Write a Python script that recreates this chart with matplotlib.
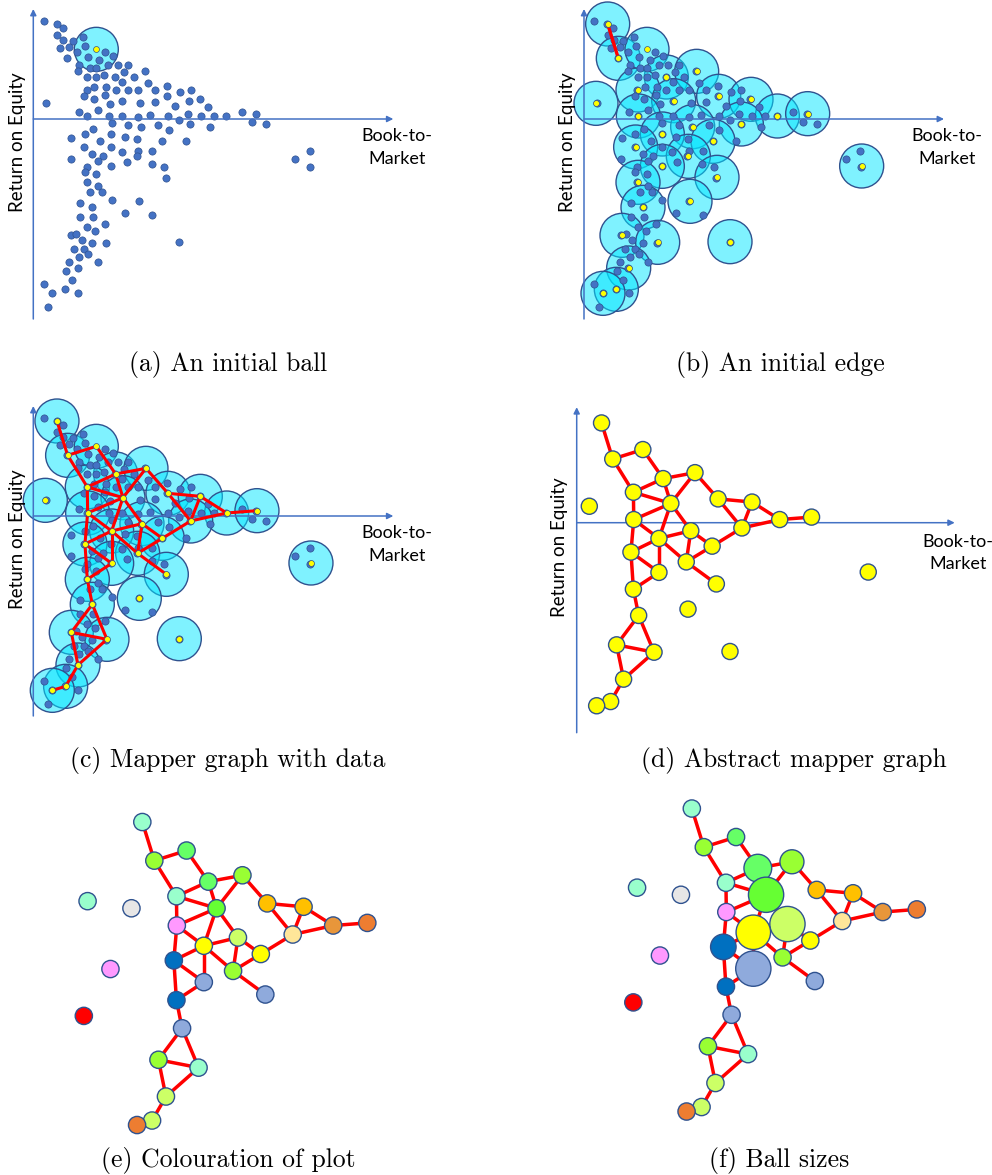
import matplotlib
matplotlib.use('Agg')
import matplotlib.pyplot as plt
from matplotlib.patches import Circle

# ---------------- data (units: Book-to-Market, Return on Equity, arbitrary scale) -----------------
bm = [31, 70, 88, 72, 90, 118, 150, 81, 108, 131, 156, 214, 238, 101, 165, 198, 137, 225, 253, 285,
      169, 189, 133, 161, 189, 213, 246, 273, 301, 336, 266, 344, 160, 183, 219, 247, 285, 315, 366, 401,
      440, 472, 152, 181, 216, 229, 267, 320, 366, 402, 425, 468, 499, 524, 38, 136, 193, 162, 226, 266,
      314, 351, 405, 437, 465, 504, 543, 579, 626, 668, 656, 698, 235, 285, 324, 375, 406, 470, 531, 180,
      154, 113, 233, 275, 311, 200, 386, 457, 153, 233, 265, 315, 357, 176, 208, 310, 112, 193, 280, 355,
      391, 233, 160, 154, 189, 397, 160, 193, 169, 205, 235, 316, 141, 176, 275, 356, 141, 180, 215, 161,
      185, 112, 127, 145, 176, 219, 437, 122, 153, 165, 137, 108, 193, 99, 133, 116, 31, 57, 96, 134,
      44, 785, 829, 831]
roe = [294, 284, 273, 253, 238, 235, 246, 213, 216, 200, 218, 202, 190, 183, 185, 177, 162, 163, 163, 162,
       154, 152, 143, 126, 126, 133, 126, 142, 126, 143, 112, 109, 87, 96, 96, 87, 87, 86, 86, 99,
       80, 86, 68, 59, 73, 46, 55, 47, 51, 68, 39, 53, 59, 35, 47, 20, 28, 9, 9, 9,
       6, 12, 10, -2, 16, 10, 10, 10, 20, 16, -8, -14, -13, -18, -23, -18, -33, -15, -23, -31,
       -46, -56, -45, -53, -59, -65, -66, -66, -84, -84, -100, -95, -95, -106, -112, -111, -120, -125, -130, -135,
       -143, -142, -144, -160, -165, -176, -190, -200, -218, -219, -242, -247, -251, -265, -282, -287, -295, -295, -315, -324,
       -335, -348, -345, -363, -372, -371, -369, -391, -389, -405, -415, -428, -430, -455, -447, -483, -496, -523, -511, -523,
       -564, -120, -97, -143]

# ball centres (landmarks), nodes 1..31
ball_bm = [71, 103, 189, 247, 338, 162, 269, 36, 404, 501, 163, 580, 671, 326, 235, 472,
           387, 155, 313, 235, 399, 162, 833, 318, 177, 114, 221, 438, 134, 97, 57]
ball_roe = [285, 182, 209, 126, 143, 87, 55, 47, 68, 59, 9, 9, 16, -23, -45, -15,
            -67, -84, -112, -142, -175, -190, -141, -247, -265, -349, -370, -368, -447, -511, -523]
ball_radius = 66

edges = [(1, 2), (2, 3), (2, 6), (3, 4), (4, 5), (4, 6), (4, 7), (5, 7), (5, 9), (6, 7), (6, 11),
         (7, 11), (7, 14), (7, 15), (9, 10), (9, 16), (10, 16), (10, 12), (12, 13), (16, 12), (11, 15),
         (11, 18), (14, 15), (14, 17), (14, 19), (15, 18), (15, 19), (15, 20), (16, 17), (17, 19), (18, 20),
         (18, 22), (19, 21), (20, 22), (22, 25), (25, 26), (25, 27), (26, 27), (26, 29), (27, 29),
         (29, 30), (30, 31)]
isolated = [8, 23, 24, 28]

# colouring of the mapper nodes (connected ones)
node_colour = {1: '#99FFCC', 2: '#99FF33', 3: '#66FF66', 4: '#66FF66', 5: '#99FF33', 6: '#99FFCC',
               7: '#66FF33', 9: '#FFC000', 10: '#FFC000', 11: '#FF99FF', 12: '#E8963A', 13: '#ED7D31',
               14: '#CCFF66', 15: '#FFFF00', 16: '#FFE699', 17: '#FFFF00', 18: '#0070C0', 19: '#99FF33',
               20: '#8FAADC', 21: '#8FAADC', 22: '#0070C0', 25: '#8FAADC', 26: '#99FF33', 27: '#99FFCC',
               29: '#CCFF66', 30: '#CCFF66', 31: '#ED7D31'}
# ball sizes (radius) for panel f, default 23
node_size = {4: 37, 5: 32, 7: 47, 14: 47, 15: 46, 18: 34, 20: 47}

# isolated nodes re-placed in the abstract plots (e), (f)
iso_bm = [-75, 42, -14, -85]
iso_roe = [74, 55, -107, -232]
iso_colour = ['#99FFCC', '#E7E6E6', '#FF99FF', '#FF0000']

# ---------------- styles -----------------
W, H = 992, 1175
AXIS_C = '#4472C4'
DOT_C = '#4472C4'
OUTLINE = '#2F528F'
BALL_FACE = (0.0, 0.9, 1.0, 0.5)
LABEL_FONT = ['Lato', 'DejaVu Sans']
CAP_FONT = ['cmr10', 'DejaVu Serif']
plt.rcParams['axes.formatter.use_mathtext'] = True

fig = plt.figure(figsize=(W / 100, H / 100), dpi=100)


def panel(box, origin, scale):
    l, t, r, b = box
    ox, oy = origin
    ax = fig.add_axes([l / W, 1 - b / H, (r - l) / W, (b - t) / H])
    ax.set_xlim((l - ox) / scale, (r - ox) / scale)
    ax.set_ylim((oy - b) / scale, (oy - t) / scale)
    ax.axis('off')
    return ax


def draw_axes(ax):
    kw = dict(arrowstyle='-|>', color=AXIS_C, lw=1.1, mutation_scale=9, shrinkA=0, shrinkB=0)
    ax.annotate('', xy=(0, 330), xytext=(0, -600), arrowprops=kw)
    ax.annotate('', xy=(1080, 0), xytext=(0, 0), arrowprops=kw)
    ax.text(-48, -70, 'Return on Equity', rotation=90, ha='center', va='center',
            fontsize=13.5, family=LABEL_FONT)
    ax.text(1090, -86, 'Book-to-\nMarket', ha='center', va='center', multialignment='center',
            fontsize=13, family=LABEL_FONT, linespacing=1.5)


def draw_balls(ax, ids):
    for i in ids:
        ax.add_patch(Circle((ball_bm[i - 1], ball_roe[i - 1]), ball_radius, facecolor=BALL_FACE,
                            edgecolor=OUTLINE, lw=1.0, zorder=1))


def draw_dots(ax):
    ax.scatter(bm, roe, s=27, c=DOT_C, edgecolors=OUTLINE, linewidths=0.5, zorder=2)


def draw_centres(ax, ids):
    ax.scatter([ball_bm[i - 1] for i in ids], [ball_roe[i - 1] for i in ids], s=18, c='#FFFF00',
               edgecolors=OUTLINE, linewidths=0.5, zorder=4)


def draw_edges(ax, lw, pairs=edges):
    for a, b in pairs:
        ax.plot([ball_bm[a - 1], ball_bm[b - 1]], [ball_roe[a - 1], ball_roe[b - 1]],
                color='#FF0000', lw=lw, solid_capstyle='round', zorder=3)


all_ids = list(range(1, 32))
connected = [i for i in all_ids if i not in isolated]

# (a) an initial ball
ax = panel((0, 0, 496, 340), (33.3, 119), 1 / 3)
draw_axes(ax)
draw_balls(ax, [3])
draw_dots(ax)
draw_centres(ax, [3])

# (b) an initial edge
ax = panel((496, 0, 992, 340), (584, 119), 1 / 3)
draw_axes(ax)
draw_balls(ax, all_ids)
draw_dots(ax)
draw_edges(ax, 2.4, [(1, 2)])
draw_centres(ax, all_ids)

# (c) mapper graph with data
ax = panel((0, 390, 496, 740), (33.3, 516), 1 / 3)
draw_axes(ax)
draw_balls(ax, all_ids)
draw_dots(ax)
draw_edges(ax, 2.2)
draw_centres(ax, all_ids)

# (d) abstract mapper graph
ax = panel((496, 390, 992, 740), (576.7, 522.7), 0.35)
draw_axes(ax)
draw_edges(ax, 2.5)
for i in all_ids:
    ax.add_patch(Circle((ball_bm[i - 1], ball_roe[i - 1]), 23, facecolor='#FFFF00',
                        edgecolor=OUTLINE, lw=1.0, zorder=4))

# (e) colouration, (f) ball sizes
for box, origin, sized in [((0, 790, 496, 1140), (115.7, 928.9), False),
                           ((496, 790, 992, 1140), (665.2, 915.4), True)]:
    ax = panel(box, origin, 0.375)
    draw_edges(ax, 2.5)
    for i in connected:
        r = node_size.get(i, 23) if sized else 23
        ax.add_patch(Circle((ball_bm[i - 1], ball_roe[i - 1]), r, facecolor=node_colour[i],
                            edgecolor=OUTLINE, lw=1.0, zorder=4))
    for x, y, c in zip(iso_bm, iso_roe, iso_colour):
        ax.add_patch(Circle((x, y), 23, facecolor=c, edgecolor=OUTLINE, lw=1.0, zorder=4))

# captions
captions = [('(a) An initial ball', 228, 365), ('(b) An initial edge', 780, 365),
            ('(c) Mapper graph with data', 228, 761), ('(d) Abstract mapper graph', 794, 761),
            ('(e) Colouration of plot', 228, 1160), ('(f) Ball sizes', 779, 1160)]
for txt, x, y in captions:
    fig.text(x / W, 1 - y / H, txt, ha='center', va='center', fontsize=18.5, family=CAP_FONT)

fig.savefig('out.png', dpi=100)
